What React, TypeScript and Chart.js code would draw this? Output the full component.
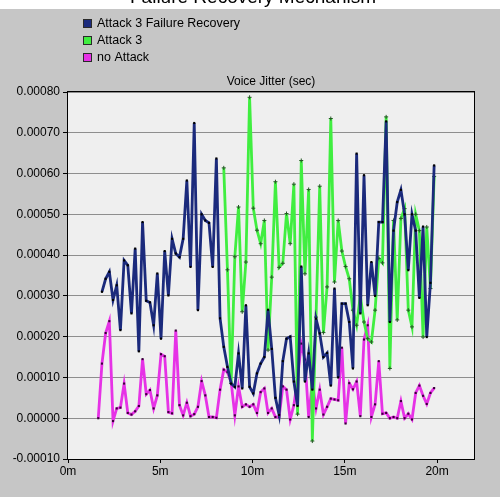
import { useEffect, useRef } from "react";
import { Chart, registerables } from "chart.js";

Chart.register(...registerables);

// ---------- data (jitter values in units of 0.0001 s) ----------
const UNIT = 1e-4;
const SAMPLE_START_MIN = 1.64; // first sample time on the shared grid (minutes)
const SAMPLE_STEP_MIN = 0.2; // sampling interval (minutes)

const seriesLabels = ["Attack 3 Failure Recovery", "Attack 3", "no Attack"];
const seriesColors = ["#1b2a7c", "#40ee40", "#e632e6"];
const seriesStartIndex = [1, 34, 0]; // index on the sample grid where each series begins

const recoveryJitter = [
  3.1, 3.42, 3.59, 2.9, 3.26, 2.16, 3.87, 3.75, 2.57, 4.16,
  1.64, 4.81, 2.88, 2.84, 2.28, 3.55, 1.95, 4.1, 3.01, 4.4,
  4.04, 3.95, 4.4, 5.83, 3.71, 7.24, 2.65, 5.0, 4.85, 4.79,
  3.71, 6.37, 2.45, 1.75, 1.26, 0.85, 0.77, 1.59, 0.73, 2.77,
  0.77, 0.61, 1.1, 1.34, 1.5, 2.66, 1.7, 0.5, 0.08, 1.4,
  1.95, 2.0, 0.9, 0.3, 3.72, 0.9, 1.59, 0.7, 2.44, 2.08,
  1.5, 1.6, 0.8, 3.18, 1.0, 2.81, 2.81, 2.36, 1.22, 6.49,
  2.57, 5.96, 2.77, 3.83, 3.0, 4.81, 4.81, 7.28, 2.36, 4.6,
  5.3, 5.6, 5.0, 3.63, 5.0, 4.6, 2.95, 4.7, 1.99, 3.32,
  6.2,
];

const attackJitter = [
  6.14, 3.64, 0.85, 3.96, 5.18, 2.61, 3.83, 7.87, 5.15, 4.61,
  4.28, 4.85, 1.67, 3.46, 5.8, 3.7, 3.8, 5.02, 4.28, 5.74,
  0.1, 6.32, 3.54, 5.61, -0.56, 2.48, 5.69, 2.1, 3.22, 7.35,
  3.34, 4.85, 4.1, 3.72, 3.42, 2.65, 2.28, 3.0, 2.36, 1.95,
  1.87, 2.65, 3.92, 3.81, 7.39, 1.22, 4.85, 2.41, 4.9, 5.14,
  2.65, 2.24, 5.0, 4.6, 1.99, 4.69, 3.18, 5.93,
];

const noAttackJitter = [
  0.0, 1.34, 2.09, 2.38, -0.07, 0.24, 0.26, 0.85, 0.13, 0.09,
  0.17, 0.3, 1.45, 0.59, 0.69, 0.24, 0.56, 1.57, 1.52, 0.15,
  0.12, 2.15, 0.32, 0.07, 0.38, 0.05, 0.1, 0.28, 0.91, 0.56,
  0.03, 0.03, 0.01, 0.7, 1.19, 1.13, 0.89, 0.07, 0.78, 0.28,
  0.34, 0.28, 0.34, 0.13, 0.64, 0.73, 0.13, 0.24, 0.03, 0.03,
  0.78, 0.7, -0.03, 0.32, 0.97, 1.83, 1.44, 0.03, 0.89, 0.24,
  0.7, 0.09, 0.28, 0.48, 0.46, 0.44, 1.73, -0.13, 0.86, 0.71,
  0.9, 0.05, 1.93, 2.28, 0.03, 0.34, 1.4, 0.11, 0.13, 0.0,
  0.03, 0.0, 0.42, 0.0, 0.11, -0.03, 0.62, 0.8, 0.55, 0.35,
  0.62, 0.74,
];

const xTickValues = [0, 5, 10, 15, 20];
const X_MAX_MIN = 22;
const Y_MIN = -0.0001;
const Y_MAX = 0.0008;
const Y_STEP = 0.0001;

const pageTitle = "Failure Recovery Mechanism";
const chartTitle = "Voice Jitter (sec)";

const FONT = '"Liberation Sans", Arial, sans-serif';

function toPoints(values: number[], startIndex: number) {
  return values.map((v, i) => ({
    x: SAMPLE_START_MIN + (startIndex + i) * SAMPLE_STEP_MIN,
    y: v * UNIT,
  }));
}

const decorPlugin = {
  id: "decor",
  beforeDraw(chart: any) {
    const { ctx, width, height, chartArea } = chart;
    ctx.save();
    ctx.fillStyle = "#ffffff";
    ctx.fillRect(0, 0, width, height);
    // cut-off page title at the very top
    ctx.fillStyle = "#000";
    ctx.font = `19px ${FONT}`;
    ctx.textAlign = "center";
    ctx.textBaseline = "alphabetic";
    ctx.fillText(pageTitle, 253, 3);
    // grey panel
    ctx.fillStyle = "#c6c6c6";
    ctx.fillRect(0, 9, width, height - 9);
    // plot background
    ctx.fillStyle = "#efefef";
    ctx.fillRect(chartArea.left, chartArea.top, chartArea.right - chartArea.left, chartArea.bottom - chartArea.top);
    // legend
    ctx.font = `12.5px ${FONT}`;
    ctx.textAlign = "left";
    ctx.textBaseline = "middle";
    seriesLabels.forEach((label, i) => {
      const y = 19 + 17 * i;
      ctx.fillStyle = seriesColors[i];
      ctx.fillRect(83, y, 9, 9);
      ctx.strokeStyle = "#2a2a2a";
      ctx.lineWidth = 1;
      ctx.strokeRect(83.5, y + 0.5, 8, 8);
      ctx.fillStyle = "#000";
      ctx.fillText(label, 97, y + 4.5);
    });
    // chart title
    ctx.font = `12px ${FONT}`;
    ctx.textAlign = "center";
    ctx.fillText(chartTitle, (chartArea.left + chartArea.right) / 2, 82);
    ctx.restore();
  },
  afterDraw(chart: any) {
    const { ctx, chartArea } = chart;
    ctx.save();
    ctx.strokeStyle = "#000";
    ctx.lineWidth = 1;
    ctx.strokeRect(
      Math.round(chartArea.left) - 0.5,
      Math.round(chartArea.top) - 0.5,
      Math.round(chartArea.right - chartArea.left) + 1,
      Math.round(chartArea.bottom - chartArea.top) + 1
    );
    ctx.restore();
  },
};

export default function App() {
  const canvasRef = useRef<HTMLCanvasElement | null>(null);

  useEffect(() => {
    if (!canvasRef.current) return;
    const datasets = [
      {
        label: seriesLabels[0],
        data: toPoints(recoveryJitter, seriesStartIndex[0]),
        borderColor: seriesColors[0],
        borderWidth: 2.8,
        pointStyle: "rect",
        pointRadius: 1.5,
        pointBackgroundColor: "#000",
        pointBorderColor: "#000",
        pointBorderWidth: 0,
        tension: 0,
      },
      {
        label: seriesLabels[1],
        data: toPoints(attackJitter, seriesStartIndex[1]),
        borderColor: seriesColors[1],
        borderWidth: 2.8,
        pointStyle: "cross",
        pointRadius: 2,
        pointBorderColor: "#245a24",
        pointBorderWidth: 1,
        tension: 0,
      },
      {
        label: seriesLabels[2],
        data: toPoints(noAttackJitter, seriesStartIndex[2]),
        borderColor: seriesColors[2],
        borderWidth: 2.8,
        pointStyle: "rect",
        pointRadius: 1.5,
        pointBackgroundColor: "#3a003a",
        pointBorderColor: "#3a003a",
        pointBorderWidth: 0,
        tension: 0,
      },
    ];

    const chart = new Chart(canvasRef.current, {
      type: "line",
      data: { datasets },
      options: {
        responsive: false,
        animation: false,
        devicePixelRatio: 1,
        layout: { padding: { left: 0, top: 92, right: 26, bottom: 8 } },
        plugins: {
          legend: { display: false },
          title: { display: false },
          tooltip: { enabled: false },
        },
        scales: {
          x: {
            type: "linear",
            min: 0,
            max: X_MAX_MIN,
            afterBuildTicks: (s: any) => {
              s.ticks = xTickValues.map((v) => ({ value: v }));
            },
            afterFit: (s: any) => {
              s.height = 30;
            },
            ticks: {
              callback: (v: any) => `${v}m`,
              font: { family: FONT, size: 12 },
              color: "#000",
              padding: 1,
              maxRotation: 0,
              autoSkip: false,
            },
            grid: {
              drawOnChartArea: false,
              drawTicks: true,
              tickLength: 4,
              tickColor: "#000",
            },
            border: { display: false },
          },
          y: {
            type: "linear",
            min: Y_MIN,
            max: Y_MAX,
            afterFit: (s: any) => {
              s.width = 68;
            },
            ticks: {
              stepSize: Y_STEP,
              callback: (v: any) => Number(v).toFixed(5),
              font: { family: FONT, size: 12 },
              color: "#000",
              padding: 3,
            },
            grid: {
              color: "#8e8e8e",
              lineWidth: 1,
              tickLength: 5,
              tickColor: "#000",
            },
            border: { display: false },
          },
        },
      } as any,
      plugins: [decorPlugin],
    });
    return () => chart.destroy();
  }, []);

  return (
    <div style={{ position: "absolute", left: 0, top: 0 }}>
      <canvas ref={canvasRef} width={500} height={497} style={{ display: "block" }} />
    </div>
  );
}
